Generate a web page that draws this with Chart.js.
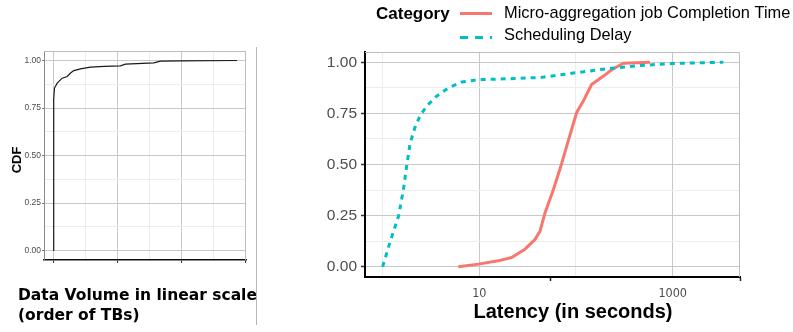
<!DOCTYPE html>
<html>
<head>
<meta charset="utf-8">
<script src="https://cdn.jsdelivr.net/npm/chart.js@4.4.0/dist/chart.umd.min.js"></script>
<style>
  body { margin: 0; background: #fff; }
  #wrap { position: relative; width: 793px; height: 332px; overflow: hidden; }
  #volume { position: absolute; left: 0; top: 0; }
  #latency { position: absolute; left: 256px; top: 0; }
  .divider { position: absolute; left: 256px; top: 47px; width: 1px; height: 278px; background: #b8b8b8; }
</style>
</head>
<body>
<div id="wrap">
  <canvas id="volume" width="256" height="332"></canvas>
  <canvas id="latency" width="537" height="332"></canvas>
  <div class="divider"></div>
</div>
<script>
// CDF of data volume (TB, linear scale)
const volumeTB  = [0, 0.005, 0.011, 0.02, 0.063, 0.14, 0.219, 0.271, 0.323, 0.427, 0.583, 0.8, 1.05, 1.13, 1.573, 1.677, 2.0, 2.875];
const volumeCdf = [0, 0.75, 0.793, 0.855, 0.881, 0.907, 0.916, 0.934, 0.947, 0.956, 0.965, 0.969, 0.972, 0.981, 0.988, 0.997, 0.998, 1.0];

// latency CDFs (seconds, log scale)
const schedDelaySec = [1.0, 1.19, 1.46, 1.64, 1.77, 1.92, 2.16, 2.44, 2.86, 3.62, 4.78, 6.58, 9.8, 23.4, 44, 94, 207, 459, 1014, 3336];
const schedDelayCdf = [0, 0.118, 0.246, 0.375, 0.488, 0.601, 0.681, 0.738, 0.786, 0.834, 0.874, 0.903, 0.915, 0.92, 0.926, 0.947, 0.968, 0.984, 0.994, 1.0];
const completionSec = [6.07, 9.8, 15.7, 21.6, 29.7, 37.7, 42.5, 47.8, 58.2, 71, 83.3, 101.6, 119, 145, 191, 234, 309, 582];
const completionCdf = [0, 0.013, 0.029, 0.045, 0.086, 0.134, 0.174, 0.263, 0.375, 0.504, 0.617, 0.754, 0.81, 0.891, 0.931, 0.963, 0.995, 1.0];

const categoryNames = ['Micro-aggregation job Completion Time', 'Scheduling Delay'];

// axis breaks
const cdfMajor = [0, 0.25, 0.5, 0.75, 1];
const cdfMinor = [0.125, 0.375, 0.625, 0.875];
const volumeMajor = [0, 1, 2, 3];
const volumeMinor = [0.5, 1.5, 2.5];
const latencyMajor = [10, 1000];
const latencyMinor = [1, 100];
const latencyBareTicks = [55, 4966];

const RED = '#F8766D', TEAL = '#00BFC4';
const GRID_MAJOR = '#c8c8c8', GRID_MINOR = '#ececec', TICK_TEXT = '#4d4d4d';
const SANS = "'Liberation Sans', Arial, sans-serif";
const NARROW = "'Liberation Sans Narrow', 'DejaVu Sans Condensed', 'Liberation Sans', sans-serif";

const toPoints = (xs, ys) => xs.map((x, i) => ({ x, y: ys[i] }));
const has = (arr, v) => arr.some(a => Math.abs(a - v) <= 1e-6 * Math.max(1, Math.abs(a)));
const breaks = (...lists) => [].concat(...lists).sort((a, b) => a - b).map(v => ({ value: v }));
const NONE = 'rgba(0,0,0,0)';

// thin grey box on the top and right side of the panel
const framePlugin = {
  id: 'frame',
  beforeDatasetsDraw(chart) {
    const { ctx, chartArea: a } = chart;
    ctx.save();
    ctx.strokeStyle = '#bdbdbd';
    ctx.lineWidth = 1;
    ctx.beginPath();
    ctx.moveTo(a.left, a.top + 0.5);
    ctx.lineTo(a.right - 0.5, a.top + 0.5);
    ctx.lineTo(a.right - 0.5, a.bottom);
    ctx.stroke();
    ctx.restore();
  }
};

// free-standing titles
const textPlugin = {
  id: 'texts',
  afterDraw(chart, args, opts) {
    const ctx = chart.ctx;
    (opts.items || []).forEach(t => {
      ctx.save();
      ctx.font = t.font;
      ctx.fillStyle = t.color || '#000';
      ctx.textAlign = t.align || 'left';
      ctx.textBaseline = 'alphabetic';
      ctx.translate(t.x, t.y);
      if (t.rotate) ctx.rotate(t.rotate);
      ctx.fillText(t.text, 0, 0);
      ctx.restore();
    });
  }
};

// ggplot-style legend: title on the left, keys stacked
const legendPlugin = {
  id: 'catLegend',
  afterDraw(chart) {
    const ctx = chart.ctx;
    ctx.save();
    ctx.fillStyle = '#000';
    ctx.font = 'bold 17px ' + SANS;
    ctx.fillText('Category', 120, 19);
    chart.data.datasets.forEach((ds, i) => {
      const y = 13.5 + i * 24;
      ctx.strokeStyle = ds.borderColor;
      ctx.lineWidth = 3;
      ctx.lineCap = 'butt';
      ctx.setLineDash(ds.borderDash ? [8, 7] : []);
      ctx.beginPath();
      ctx.moveTo(204, y);
      ctx.lineTo(236, y);
      ctx.stroke();
      ctx.setLineDash([]);
      ctx.font = '16.4px ' + SANS;
      ctx.fillStyle = '#000';
      ctx.fillText(ds.label, 248, i ? 40 : 17.5);
    });
    ctx.restore();
  }
};

const baseOptions = {
  responsive: false,
  animation: false,
  events: [],
  plugins: { legend: { display: false }, tooltip: { enabled: false } },
  elements: { point: { radius: 0 }, line: { tension: 0 } }
};

new Chart(document.getElementById('volume'), {
  type: 'line',
  data: {
    datasets: [{
      data: toPoints(volumeTB, volumeCdf),
      borderColor: '#1a1a1a',
      borderWidth: 1.2
    }]
  },
  plugins: [framePlugin, textPlugin],
  options: {
    ...baseOptions,
    layout: { padding: { left: 0, right: 10, top: 51, bottom: 69 } },
    scales: {
      x: {
        type: 'linear', min: -0.1435, max: 3.0135,
        afterBuildTicks: s => { s.ticks = breaks(volumeMajor, volumeMinor); },
        afterFit: s => { s.height = 3; },
        ticks: { autoSkip: false, display: false },
        grid: {
          color: c => has(volumeMajor, c.tick.value) ? GRID_MAJOR : GRID_MINOR,
          tickColor: c => has(volumeMajor, c.tick.value) ? '#333' : NONE,
          tickLength: 3
        },
        border: { color: '#111', width: 1.6 }
      },
      y: {
        min: -0.05, max: 1.05,
        afterBuildTicks: s => { s.ticks = breaks(cdfMajor, cdfMinor); },
        afterFit: s => { s.width = 44; },
        ticks: {
          autoSkip: false, padding: 1, color: TICK_TEXT,
          font: { family: SANS, size: 8.5 },
          callback: v => has(cdfMajor, v) ? v.toFixed(2) : ''
        },
        grid: {
          color: c => has(cdfMajor, c.tick.value) ? GRID_MAJOR : GRID_MINOR,
          tickColor: c => has(cdfMajor, c.tick.value) ? '#777' : NONE,
          tickLength: 2
        },
        border: { color: '#8a8a8a', width: 1 }
      }
    },
    plugins: {
      ...baseOptions.plugins,
      texts: {
        items: [
          { text: 'CDF', x: 21, y: 160, font: 'bold 13px ' + SANS, align: 'center', rotate: -Math.PI / 2 },
          { text: 'Data Volume in linear scale', x: 18, y: 300, font: "bold 15.5px 'DejaVu Sans', sans-serif" },
          { text: '(order of TBs)', x: 18, y: 319.5, font: "bold 15.5px 'DejaVu Sans', sans-serif" }
        ]
      }
    }
  }
});

new Chart(document.getElementById('latency'), {
  type: 'line',
  data: {
    datasets: [{
      label: categoryNames[0],
      data: toPoints(completionSec, completionCdf),
      borderColor: RED,
      borderWidth: 3,
      borderJoinStyle: 'round',
      order: 2
    }, {
      label: categoryNames[1],
      data: toPoints(schedDelaySec, schedDelayCdf),
      borderColor: TEAL,
      borderWidth: 3,
      borderDash: [5, 5],
      borderCapStyle: 'butt',
      order: 1
    }]
  },
  plugins: [framePlugin, textPlugin, legendPlugin],
  options: {
    ...baseOptions,
    layout: { padding: { left: 0, right: 53, top: 52, bottom: 33 } },
    scales: {
      x: {
        type: 'logarithmic', min: 0.658, max: 4966,
        afterBuildTicks: s => { s.ticks = breaks(latencyMajor, latencyMinor, latencyBareTicks); },
        afterFit: s => { s.height = 22; },
        ticks: {
          autoSkip: false, maxRotation: 0, padding: 5, color: TICK_TEXT,
          font: { family: NARROW, size: 12.5 },
          callback: v => has(latencyMajor, v) ? String(v) : ''
        },
        grid: {
          color: c => has(latencyMajor, c.tick.value) ? GRID_MAJOR : has(latencyMinor, c.tick.value) ? GRID_MINOR : NONE,
          tickColor: c => has(latencyBareTicks, c.tick.value) ? '#222' : NONE,
          tickLength: 4,
          tickWidth: 1.5
        },
        border: { color: '#000', width: 2 }
      },
      y: {
        min: -0.05, max: 1.05,
        afterBuildTicks: s => { s.ticks = breaks(cdfMajor, cdfMinor); },
        afterFit: s => { s.width = 109; },
        ticks: {
          autoSkip: false, padding: 4, color: TICK_TEXT,
          font: { family: SANS, size: 15.5 },
          callback: v => has(cdfMajor, v) ? v.toFixed(2) : ''
        },
        grid: {
          color: c => has(cdfMajor, c.tick.value) ? GRID_MAJOR : GRID_MINOR,
          tickColor: c => has(cdfMajor, c.tick.value) ? '#333' : NONE,
          tickLength: 4,
          tickWidth: 1.5
        },
        border: { color: '#000', width: 2 }
      }
    },
    plugins: {
      ...baseOptions.plugins,
      texts: {
        items: [
          { text: 'Latency (in seconds)', x: 317, y: 318, font: 'bold 20px ' + SANS, align: 'center' }
        ]
      }
    }
  }
});
</script>
</body>
</html>
